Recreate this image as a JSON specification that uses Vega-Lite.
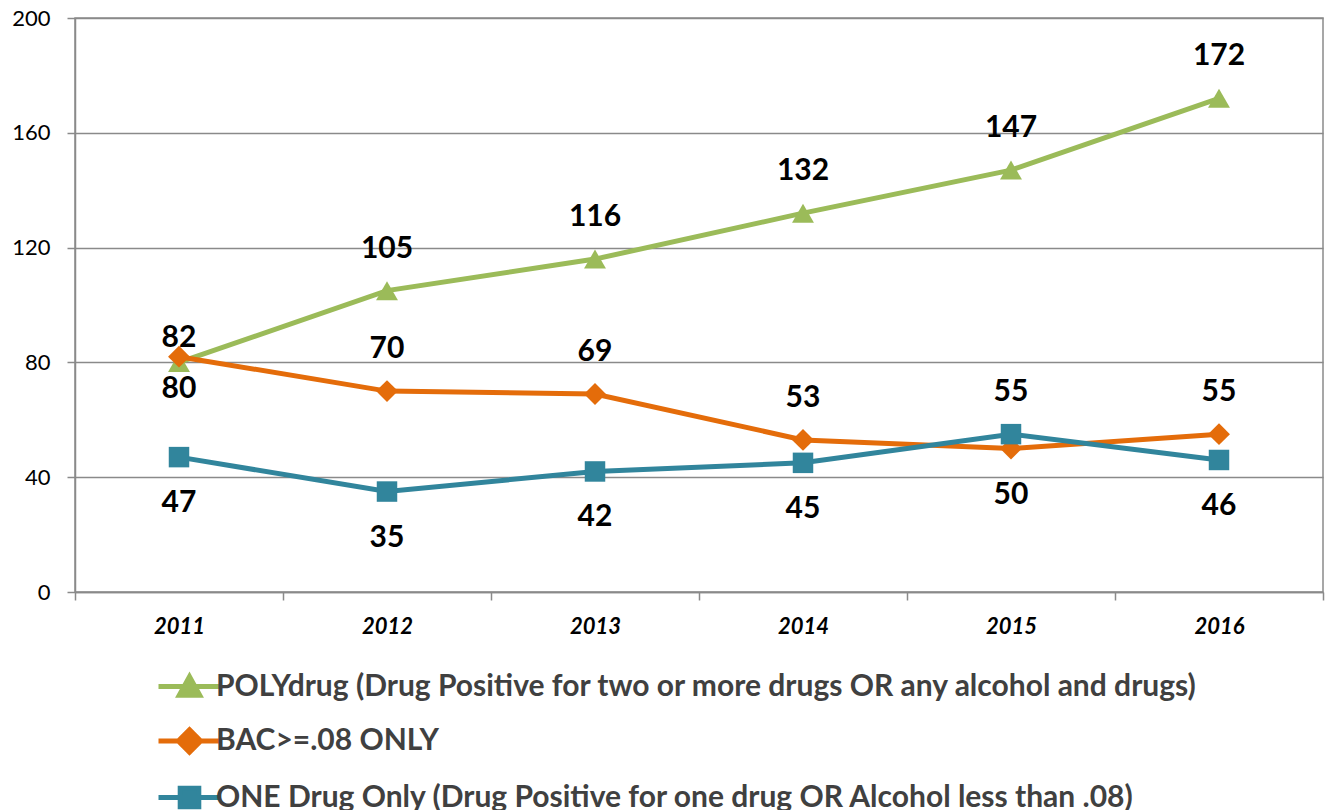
{
  "$schema": "https://vega.github.io/schema/vega-lite/v6.json",
  "width": 1248,
  "height": 574,
  "autosize": {"type": "none"},
  "padding": {"left": 75, "top": 18, "right": 2, "bottom": 218},
  "background": "white",
  "config": {
    "font": "Lato",
    "view": {"stroke": "#8a8a8a", "strokeWidth": 1.5}
  },
  "data": {
    "values": [
      {"year": "2011", "series": "POLYdrug (Drug Positive for two or more drugs OR any alcohol and drugs)", "value": 80},
      {"year": "2012", "series": "POLYdrug (Drug Positive for two or more drugs OR any alcohol and drugs)", "value": 105},
      {"year": "2013", "series": "POLYdrug (Drug Positive for two or more drugs OR any alcohol and drugs)", "value": 116},
      {"year": "2014", "series": "POLYdrug (Drug Positive for two or more drugs OR any alcohol and drugs)", "value": 132},
      {"year": "2015", "series": "POLYdrug (Drug Positive for two or more drugs OR any alcohol and drugs)", "value": 147},
      {"year": "2016", "series": "POLYdrug (Drug Positive for two or more drugs OR any alcohol and drugs)", "value": 172},
      {"year": "2011", "series": "BAC>=.08 ONLY", "value": 82},
      {"year": "2012", "series": "BAC>=.08 ONLY", "value": 70},
      {"year": "2013", "series": "BAC>=.08 ONLY", "value": 69},
      {"year": "2014", "series": "BAC>=.08 ONLY", "value": 53},
      {"year": "2015", "series": "BAC>=.08 ONLY", "value": 50},
      {"year": "2016", "series": "BAC>=.08 ONLY", "value": 55},
      {"year": "2011", "series": "ONE Drug Only (Drug Positive for one drug OR Alcohol less than .08)", "value": 47},
      {"year": "2012", "series": "ONE Drug Only (Drug Positive for one drug OR Alcohol less than .08)", "value": 35},
      {"year": "2013", "series": "ONE Drug Only (Drug Positive for one drug OR Alcohol less than .08)", "value": 42},
      {"year": "2014", "series": "ONE Drug Only (Drug Positive for one drug OR Alcohol less than .08)", "value": 45},
      {"year": "2015", "series": "ONE Drug Only (Drug Positive for one drug OR Alcohol less than .08)", "value": 55},
      {"year": "2016", "series": "ONE Drug Only (Drug Positive for one drug OR Alcohol less than .08)", "value": 46}
    ]
  },
  "encoding": {
    "x": {
      "field": "year", "type": "ordinal",
      "scale": {"paddingInner": 0, "paddingOuter": 0},
      "axis": {
        "title": null, "labelAngle": 0, "tickBand": "extent",
        "labelFont": "Lato", "labelFontSize": 22, "labelFontWeight": "bold", "labelFontStyle": "italic",
        "labelColor": "black", "labelPadding": 16,
        "domainColor": "#8a8a8a", "domainWidth": 1.5, "tickColor": "#8a8a8a", "tickWidth": 1.5, "tickSize": 8,
        "grid": false
      }
    },
    "y": {
      "field": "value", "type": "quantitative",
      "scale": {"domain": [0, 200], "nice": false},
      "axis": {
        "title": null, "values": [0, 40, 80, 120, 160, 200],
        "labelFont": "Lato", "labelFontSize": 22, "labelColor": "black", "labelPadding": 17,
        "domainColor": "#8a8a8a", "domainWidth": 1.5, "tickColor": "#8a8a8a", "tickWidth": 1.5, "tickSize": 8,
        "grid": true, "gridColor": "#8a8a8a", "gridWidth": 1.5
      }
    }
  },
  "layer": [
    {
      "mark": {"type": "line", "strokeWidth": 5},
      "encoding": {
        "color": {
          "field": "series", "type": "nominal",
          "scale": {
            "domain": [
              "POLYdrug (Drug Positive for two or more drugs OR any alcohol and drugs)",
              "BAC>=.08 ONLY",
              "ONE Drug Only (Drug Positive for one drug OR Alcohol less than .08)"
            ],
            "range": ["#9bbb59", "#e46c0a", "#31859c"]
          },
          "legend": {
            "title": null, "orient": "none", "direction": "vertical",
            "legendX": 81, "legendY": 635,
            "symbolSize": 3844, "symbolStrokeWidth": 5, "labelOffset": -7,
            "labelFont": "Lato", "labelFontSize": 30, "labelFontWeight": "bold", "labelColor": "#404040",
            "labelLimit": 1200, "rowPadding": 1.5,
            "encode": {
              "symbols": {
                "update": {
                  "shape": {"signal": "indexof(datum.value, 'POLY') == 0 ? 'M-1,0H1M0,-0.32L0.33,0.28H-0.33Z' : indexof(datum.value, 'BAC') == 0 ? 'M-1,0H1M0,-0.36L0.36,0L0,0.36L-0.36,0Z' : 'M-1,0H1M-0.3,-0.3H0.3V0.3H-0.3Z'"},
                  "fill": {"scale": "color", "field": "value"},
                  "stroke": {"scale": "color", "field": "value"},
                  "strokeWidth": {"value": 5},
                  "size": {"value": 3844},
                  "opacity": {"value": 1}
                }
              }
            }
          }
        }
      }
    },
    {
      "transform": [{"filter": "indexof(datum.series, 'POLY') == 0"}],
      "mark": {"type": "point", "filled": true, "opacity": 1, "strokeWidth": 0, "shape": "triangle-up", "size": 480, "color": "#9bbb59"}
    },
    {
      "transform": [{"filter": "indexof(datum.series, 'BAC') == 0"}],
      "mark": {"type": "point", "filled": true, "opacity": 1, "strokeWidth": 0, "shape": "diamond", "size": 480, "color": "#e46c0a"}
    },
    {
      "transform": [{"filter": "indexof(datum.series, 'ONE') == 0"}],
      "mark": {"type": "point", "filled": true, "opacity": 1, "strokeWidth": 0, "shape": "square", "size": 420, "color": "#31859c"}
    },
    {
      "transform": [{"filter": "datum.year != '2011' && !(indexof(datum.series, 'ONE') == 0 && datum.year != '2015') && !(indexof(datum.series, 'BAC') == 0 && datum.year == '2015')"}],
      "mark": {"type": "text", "dy": -42, "font": "Lato", "fontSize": 30, "fontWeight": "bold", "color": "black", "baseline": "middle"},
      "encoding": {"text": {"field": "value", "type": "quantitative"}}
    },
    {
      "transform": [{"filter": "(indexof(datum.series, 'ONE') == 0 && datum.year != '2015') || (indexof(datum.series, 'BAC') == 0 && datum.year == '2015')"}],
      "mark": {"type": "text", "dy": 46, "font": "Lato", "fontSize": 30, "fontWeight": "bold", "color": "black", "baseline": "middle"},
      "encoding": {"text": {"field": "value", "type": "quantitative"}}
    },
    {
      "transform": [{"filter": "datum.year == '2011' && indexof(datum.series, 'BAC') == 0"}],
      "mark": {"type": "text", "dy": -19, "font": "Lato", "fontSize": 30, "fontWeight": "bold", "color": "black", "baseline": "middle"},
      "encoding": {"text": {"field": "value", "type": "quantitative"}}
    },
    {
      "transform": [{"filter": "datum.year == '2011' && indexof(datum.series, 'POLY') == 0"}],
      "mark": {"type": "text", "dy": 27, "font": "Lato", "fontSize": 30, "fontWeight": "bold", "color": "black", "baseline": "middle"},
      "encoding": {"text": {"field": "value", "type": "quantitative"}}
    }
  ]
}
